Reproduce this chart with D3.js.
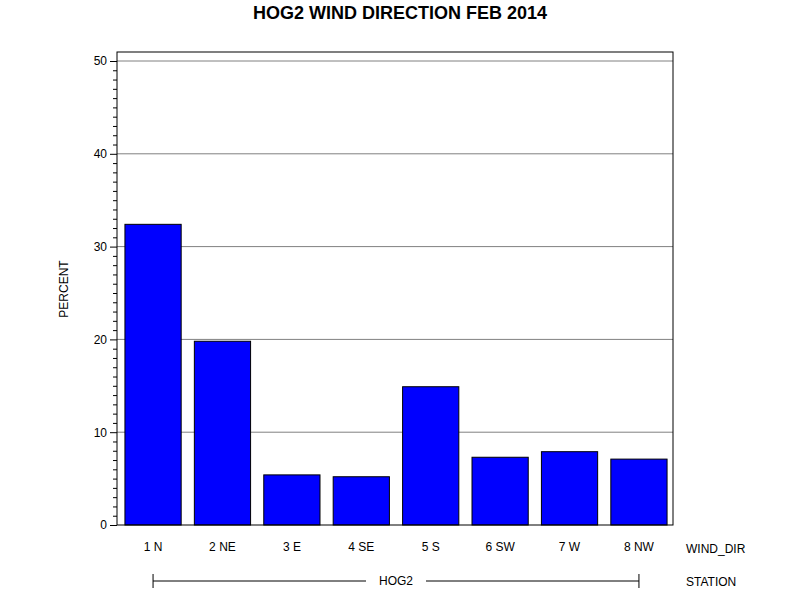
<!DOCTYPE html>
<html><head><meta charset="utf-8">
<script src="https://cdn.jsdelivr.net/npm/d3@7"></script>
<style>body{margin:0;background:#fff}text{font-family:Arial,"Liberation Sans",sans-serif}</style>
</head><body>
<svg id="c" width="800" height="600"></svg>
<script>
const categories = ["1 N","2 NE","3 E","4 SE","5 S","6 SW","7 W","8 NW"];
const percent = [32.4, 19.8, 5.4, 5.2, 14.9, 7.3, 7.9, 7.1];
const yTicks = [0,10,20,30,40,50];
const station = "HOG2";

const svg = d3.select("#c");
const L=117,R=673,T=52,B=525;
const x = d3.scaleBand().domain(categories).range([L+1,R+1]).paddingInner(0.19).paddingOuter(0.1);
const y = d3.scaleLinear().domain([0,50]).range([B,61]);

svg.append("text").attr("x",400).attr("y",19).attr("text-anchor","middle")
  .attr("font-size",18).attr("font-weight","bold").text("HOG2 WIND DIRECTION FEB 2014");

svg.append("g").selectAll("line").data(yTicks.filter(d=>d>0)).join("line")
  .attr("x1",L).attr("x2",R).attr("y1",d=>y(d)).attr("y2",d=>y(d)).attr("stroke","#808080");

svg.append("g").selectAll("rect").data(percent).join("rect")
  .attr("x",(d,i)=>x(categories[i])).attr("width",x.bandwidth())
  .attr("y",d=>y(d)).attr("height",d=>B-y(d))
  .attr("fill","#0000ff").attr("stroke","#000");

svg.append("rect").attr("x",L).attr("y",T).attr("width",R-L).attr("height",B-T)
  .attr("fill","none").attr("stroke","#000");

const ax = svg.append("g").attr("transform",`translate(${L},0)`)
  .call(d3.axisLeft(y).tickValues(yTicks).tickSize(7).tickPadding(3).tickFormat(d3.format("d")));
ax.select(".domain").remove();
ax.selectAll("text").attr("font-size",12).attr("fill","#000");
svg.append("g").attr("transform",`translate(${L},0)`)
  .call(d3.axisLeft(y).tickValues(d3.range(0,51).filter(v=>v%10)).tickSize(4).tickFormat(""))
  .select(".domain").remove();

const xa = svg.append("g").attr("transform",`translate(0,${B})`)
  .call(d3.axisBottom(x).tickSize(0).tickPadding(17));
xa.select(".domain").remove();
xa.selectAll("text").attr("font-size",12).attr("fill","#000");

svg.append("text").attr("x",686).attr("y",553).attr("font-size",12).text("WIND_DIR");
svg.append("text").attr("x",686).attr("y",586).attr("font-size",12).text("STATION");
svg.append("text").attr("transform","translate(68,289) rotate(-90)").attr("text-anchor","middle")
  .attr("font-size",12).text("PERCENT");

const x1 = x(categories[0])+x.bandwidth()/2, x2 = x(categories[categories.length-1])+x.bandwidth()/2;
const sy=581, mid=(x1+x2)/2;
svg.append("text").attr("x",mid).attr("y",sy+4).attr("text-anchor","middle").attr("font-size",12).text(station);
svg.append("line").attr("x1",x1).attr("x2",mid-30).attr("y1",sy).attr("y2",sy).attr("stroke","#000");
svg.append("line").attr("x1",mid+30).attr("x2",x2).attr("y1",sy).attr("y2",sy).attr("stroke","#000");
[x1,x2].forEach(v=>svg.append("line").attr("x1",v).attr("x2",v).attr("y1",sy-7).attr("y2",sy+7).attr("stroke","#000"));
</script>
</body></html>
